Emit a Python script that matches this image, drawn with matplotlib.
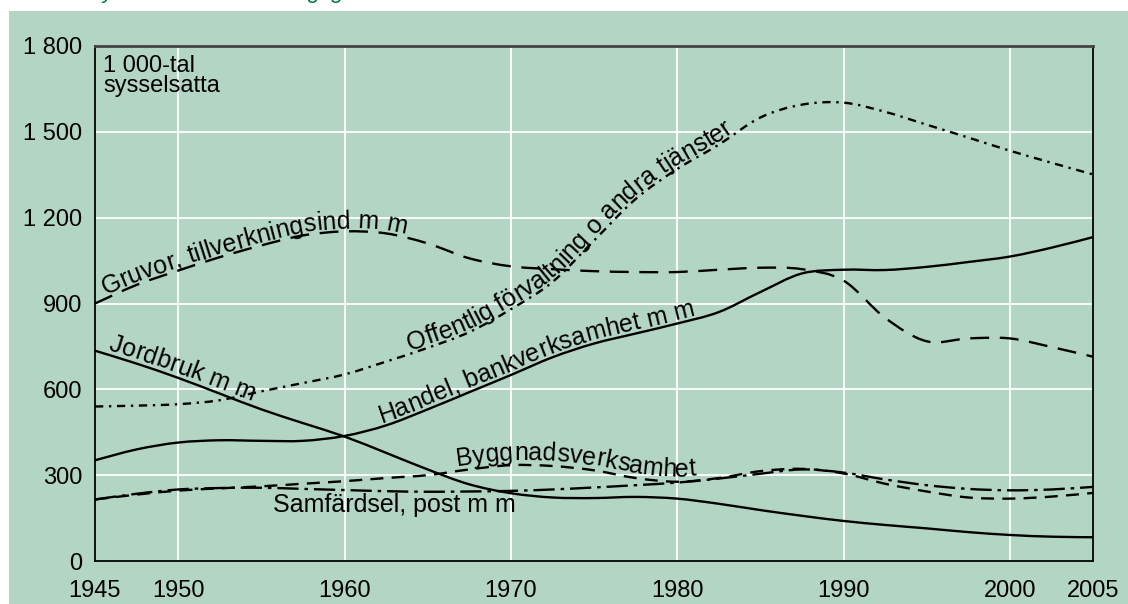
import numpy as np
import matplotlib
matplotlib.use("Agg")
import matplotlib.pyplot as plt
from matplotlib.patches import Rectangle, PathPatch
from matplotlib.path import Path
from matplotlib.transforms import IdentityTransform
from matplotlib.font_manager import FontProperties, findfont, get_font
from matplotlib.ft2font import LOAD_NO_HINTING

plt.rcParams['font.family'] = ['Liberation Sans', 'DejaVu Sans']

years = [1945, 1947.5, 1950, 1952.5, 1955, 1957.5, 1960, 1962.5, 1965, 1967.5,
         1970, 1972.5, 1975, 1977.5, 1980, 1982.5, 1985, 1987.5, 1990, 1992.5,
         1995, 1997.5, 2000, 2002.5, 2005]

# 1 000-tal sysselsatta per näringsgren
offentlig = [540, 543, 548, 562, 593, 622, 652, 697, 745, 800,
             880, 975, 1120, 1265, 1370, 1455, 1550, 1595, 1602, 1570,
             1525, 1480, 1434, 1392, 1351]
gruvor = [900, 965, 1015, 1062, 1103, 1138, 1152, 1145, 1110, 1058,
          1030, 1020, 1013, 1010, 1010, 1018, 1025, 1020, 980, 850,
          768, 778, 778, 748, 714]
jordbruk = [735, 690, 640, 585, 530, 482, 435, 378, 320, 268,
            237, 222, 220, 224, 218, 200, 178, 158, 140, 126,
            114, 101, 91, 85, 83]
handel = [352, 390, 414, 422, 420, 420, 437, 474, 530, 590,
          650, 712, 760, 795, 830, 870, 940, 1005, 1018, 1017,
          1028, 1045, 1064, 1095, 1132]
byggnad = [215, 232, 246, 254, 261, 270, 279, 290, 300, 320,
           335, 332, 317, 290, 277, 290, 314, 322, 306, 270,
           243, 222, 218, 225, 238]
samfardsel = [215, 235, 250, 255, 256, 252, 248, 244, 242, 243,
              245, 250, 257, 265, 274, 288, 305, 320, 309, 285,
              265, 252, 247, 250, 259]

xticks = [1945, 1950, 1960, 1970, 1980, 1990, 2000, 2005]
yticks = [0, 300, 600, 900, 1200, 1500, 1800]

bg = '#b3d5c4'
DPI = 100

fig = plt.figure(figsize=(11.28, 6.04), dpi=DPI)
fig.patch.set_facecolor('white')
fig.patches.append(Rectangle((9 / 1128, 0), 1, 593 / 604, transform=fig.transFigure,
                             facecolor=bg, edgecolor='none', zorder=-10))
fig.text(88 / 1128, 1.003, 'Sysselsatta efter näringsgren', color='#007a3d',
         fontsize=16, style='italic', va='baseline', ha='left')

ax = fig.add_axes([95 / 1128, 43 / 604, 998 / 1128, 515 / 604])
ax.set_facecolor(bg)
ax.set_xlim(1945, 2005)
ax.set_ylim(0, 1800)


def bezier_segments(xs, ys):
    # smooth Catmull-Rom curve through the points, as cubic Bezier pieces
    p = np.column_stack([xs, ys]).astype(float)
    n = len(p)
    segs = []
    for i in range(n - 1):
        p0 = p[i - 1] if i > 0 else p[i]
        p3 = p[i + 2] if i + 2 < n else p[i + 1]
        c1 = p[i] + (p[i + 1] - p0) / 6
        c2 = p[i + 1] - (p3 - p[i]) / 6
        segs.append((p[i], c1, c2, p[i + 1]))
    return segs


def smooth_line(xs, ys, dashes=None, lw=1.7):
    segs = bezier_segments(xs, ys)
    verts = [segs[0][0]]
    codes = [Path.MOVETO]
    for _, c1, c2, b in segs:
        verts += [c1, c2, b]
        codes += [Path.CURVE4] * 3
    ls = '-' if dashes is None else (0, dashes)
    ax.add_patch(PathPatch(Path(verts, codes), fill=False, edgecolor='black',
                           lw=lw, linestyle=ls, capstyle='butt', zorder=3))


def dense_points(xs, ys):
    t = np.linspace(0, 1, 24)[:, None]
    out = []
    for a, c1, c2, b in bezier_segments(xs, ys):
        out.append((1 - t) ** 3 * a + 3 * (1 - t) ** 2 * t * c1 + 3 * (1 - t) * t ** 2 * c2 + t ** 3 * b)
    return np.vstack(out)


smooth_line(years, offentlig, dashes=(3.5, 2.4, 1, 2.4))
smooth_line(years, gruvor, dashes=(8, 4.5))
smooth_line(years, jordbruk)
smooth_line(years, handel)
smooth_line(years, byggnad, dashes=(5.5, 3.5))
smooth_line(years, samfardsel, dashes=(9, 2.5, 1.5, 2.5))

ax.set_xticks(xticks)
ax.set_yticks(yticks)
ax.set_yticklabels([f"{v:,}".replace(',', ' ') for v in yticks])
ax.tick_params(length=0, labelsize=17, colors='black')
ax.tick_params(axis='y', pad=9)
ax.tick_params(axis='x', pad=14)
ax.grid(True, color='white', lw=1.3)
ax.set_axisbelow(True)
for side in ['left', 'bottom', 'right']:
    ax.spines[side].set_color('black')
    ax.spines[side].set_linewidth(1.3)
ax.spines['top'].set_color('#444444')
ax.spines['top'].set_linewidth(2)

ax.text(0.008, 0.982, '1 000-tal\nsysselsatta', transform=ax.transAxes,
        fontsize=17, va='top', ha='left', linespacing=0.85)

label_size = 18
label_font = FontProperties(family=['Liberation Sans', 'DejaVu Sans'], size=label_size)
ft = get_font(findfont(label_font))
ft.set_size(label_size, DPI)


def advance(ch):
    return ft.load_char(ord(ch), flags=LOAD_NO_HINTING).linearHoriAdvance / 65536


def curved_label(xs, ys, text, start, offset):
    # write text letter by letter along a series, offset px above it
    dense = dense_points(xs, ys)
    pts = ax.transData.transform(dense)
    seg = np.hypot(*np.diff(pts, axis=0).T)
    cum = np.concatenate([[0], np.cumsum(seg)])
    s = np.interp(start, dense[:, 0], cum)
    for ch in text:
        w = advance(ch)
        if ch != ' ':
            sc = s + w / 2
            span = max(w / 2, 5)
            xa = np.interp(sc - span, cum, pts[:, 0])
            ya = np.interp(sc - span, cum, pts[:, 1])
            xb = np.interp(sc + span, cum, pts[:, 0])
            yb = np.interp(sc + span, cum, pts[:, 1])
            ang = np.arctan2(yb - ya, xb - xa)
            xc = np.interp(sc, cum, pts[:, 0]) - np.sin(ang) * offset
            yc = np.interp(sc, cum, pts[:, 1]) + np.cos(ang) * offset
            ax.text(xc, yc, ch, transform=IdentityTransform(), fontproperties=label_font,
                    rotation=np.degrees(ang), rotation_mode='anchor',
                    ha='center', va='baseline', color='black', zorder=4)
        s += w


curved_label(years, gruvor, 'Gruvor, tillverkningsind m m', 1945.7, 3)
curved_label(years, offentlig, 'Offentlig förvaltning o andra tjänster', 1964.0, 3)
curved_label(years, jordbruk, 'Jordbruk m m', 1945.7, 4)
curved_label(years, handel, 'Handel, bankverksamhet m m', 1962.3, 4)
curved_label(years, byggnad, 'Byggnadsverksamhet', 1966.8, 5)
ax.text(1955.7, 171, 'Samfärdsel, post m m', fontsize=label_size, ha='left', va='baseline')

fig.savefig('out.png', dpi=DPI, facecolor=fig.get_facecolor())
